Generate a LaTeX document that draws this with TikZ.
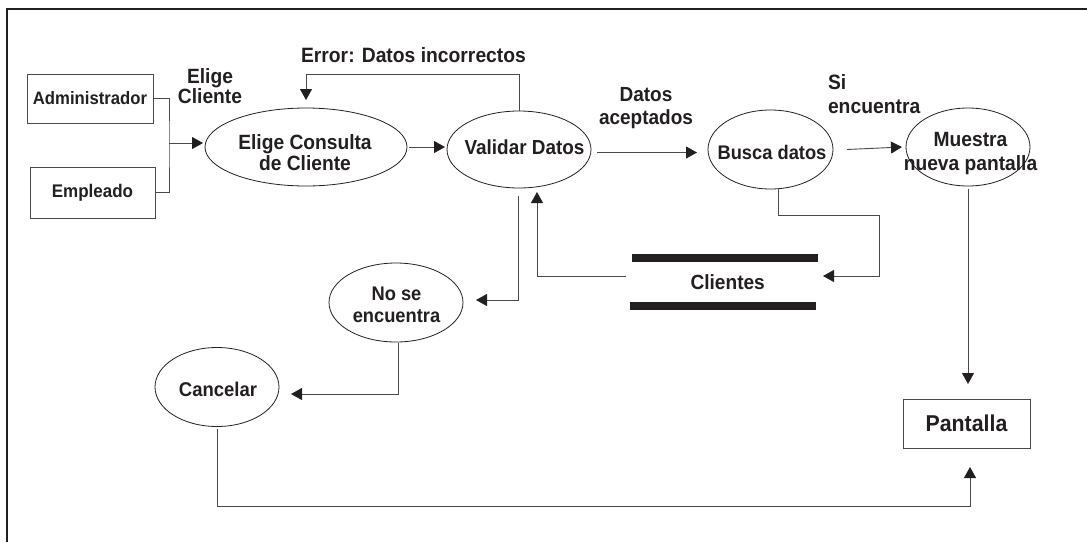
\documentclass[tikz,border=0pt]{standalone}
\usepackage{fontspec}
\setmainfont{Liberation Sans}[FakeStretch=0.93]
\usetikzlibrary{shapes.geometric,arrows.meta,calc}
\definecolor{ink}{HTML}{231F20}
\definecolor{wire}{HTML}{4A4A4A}
\newcommand*\fsz[2]{\bfseries\fontsize{\fpeval{#1/0.93}}{#2}\selectfont}
\begin{document}
\begin{tikzpicture}[x=1pt,y=-1pt,
  every node/.style={text=ink, inner sep=0pt, outer sep=0pt},
  proc/.style={ellipse, draw=ink, line width=0.8pt},
  ent/.style={rectangle, draw=wire, line width=0.9pt},
  txt/.style={align=center},
  ln/.style={draw=wire, line width=0.9pt},
  arr/.style={ln, -{Triangle[length=11pt,width=12pt,color=ink]}},
]
\useasboundingbox (0,0) rectangle (1087,542);
% frame
\draw[ink, line width=1.5pt] (7,542) -- (7,9) -- (1087,9);

% external entities
\node[ent, minimum width=126pt, minimum height=49pt, font=\fsz{16.7}{20}] (adm) at (90,98.5) {Administrador};
\node[ent, minimum width=125pt, minimum height=51pt, font=\fsz{17}{20}] (emp) at (92.5,192.5) {Empleado};
\node[ent, minimum width=127pt, minimum height=49pt, font=\fsz{21.3}{24}] (pa) at (966.5,423.5) {Pantalla};

% processes
\node[proc, minimum width=202pt, minimum height=78pt] (ec) at (306,147) {};
\node[txt, font=\fsz{19.2}{21}] (ec-t) at (305,152.7) {Elige Consulta\\de Cliente};
\node[proc, minimum width=144pt, minimum height=77pt] (va) at (519,149.5) {};
\node[txt, font=\fsz{18.9}{21}] (va-t) at (524.5,147.1) {Validar Datos};
\node[proc, minimum width=125pt, minimum height=79pt] (bu) at (770.5,149.5) {};
\node[txt, font=\fsz{18.3}{21}] (bu-t) at (772,152.6) {Busca datos};
\node[proc, minimum width=124pt, minimum height=78pt] (mu) at (968,147) {};
\node[txt, font=\fsz{19.2}{23.3}] (mu-t) at (970.5,153.4) {Muestra\\nueva pantalla};
\node[proc, minimum width=134pt, minimum height=79pt] (ns) at (396,302.5) {};
\node[txt, font=\fsz{18.3}{22}] (ns-t) at (396.5,305) {No se\\encuentra};
\node[proc, minimum width=124pt, minimum height=79pt] (ca) at (217,387) {};
\node[txt, font=\fsz{18.5}{21}] (ca-t) at (218,389) {Cancelar};

% data store
\node[minimum width=198pt, minimum height=56pt] (cl) at (724,282) {};
\fill[ink] ($(cl.north west)+(7,0)$) rectangle ($(cl.north east)+(-5,8)$);
\fill[ink] ($(cl.south west)+(5,-8)$) rectangle ($(cl.south east)+(-7,0)$);
\node[txt, font=\fsz{19.1}{21}] (cl-t) at (727.7,282.3) {Clientes};

% labels
\node[txt, font=\fsz{19.2}{20}] (l-ec) at (210,86) {Elige\\Cliente};
\node[txt, font=\fsz{19.3}{21}] (l-err) at (413.5,55) {Error: Datos incorrectos};
\node[txt, font=\fsz{19}{23}] (l-dat) at (646,108.5) {Datos\\aceptados};
\node[align=left, anchor=west, font=\fsz{19.3}{23.7}] (l-si) at (828,93.9) {Si\\encuentra};

% connectors
\coordinate (j) at (169,143);
\draw[ln] (adm.east) -| (j) |- (emp.east);
\draw[arr, shorten >=2pt] (j) -- (j -| ec.west);
\draw[arr, shorten <=2pt, shorten >=2pt] (ec.east) -- (ec.east -| va.west);
\draw[arr, shorten <=6pt, shorten >=11pt] ($(va.east)+(0,3)$) -- ($(va.east -| bu.west)+(0,3)$);
\draw[arr] ($(bu.east)+(14,0)$) -- ($(mu.west)+(-4,0)$);
\draw[arr, shorten >=8pt] (va.north) -- ++(0,-36.5) -| (ec.north);
\draw[arr] ($(va.south)+(-1,7.5)$) |- ($(ns.east)+(13,-2.5)$);
\draw[arr] ($(cl.west)+(1,-6)$) -| ($(va.south)+(18,4)$);
\draw[arr] ($(bu.south)+(7.5,0)$) -- ++(0,26) -| ($(cl.east)+(56,-6)$) -- ($(cl.east)+(0,-6)$);
\draw[arr] ($(mu.south)+(0,3)$) -- ($(mu.south |- pa.north)+(0,-15)$);
\draw[arr] ($(ns.south)+(2,1)$) |- ($(ca.east)+(12,7)$);
\draw[arr] ($(ca.south)+(0,2)$) |- ($(pa.south)+(3.5,58)$) -- ($(pa.south)+(3.5,19)$);
\end{tikzpicture}
\end{document}
